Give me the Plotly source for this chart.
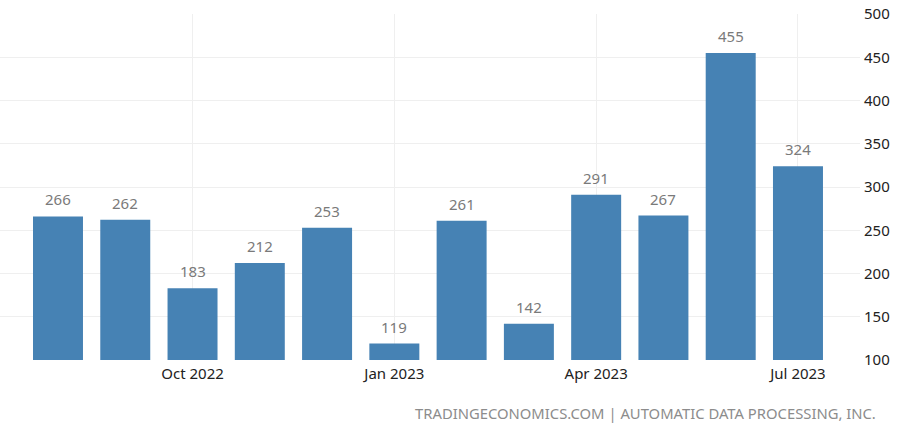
import plotly.graph_objects as go

months = ["Aug 2022", "Sep 2022", "Oct 2022", "Nov 2022", "Dec 2022", "Jan 2023",
          "Feb 2023", "Mar 2023", "Apr 2023", "May 2023", "Jun 2023", "Jul 2023"]
values = [266, 262, 183, 212, 253, 119, 261, 142, 291, 267, 455, 324]
tick_idx = [2, 5, 8, 11]
tick_text = ["Oct 2022", "Jan 2023", "Apr 2023", "Jul 2023"]
y_ticks = [100, 150, 200, 250, 300, 350, 400, 450, 500]

x = list(range(len(months)))

fig = go.Figure()
fig.add_trace(go.Bar(
    x=x, y=values, base=0,
    marker=dict(color="#4682B4", line=dict(width=0)),
    hovertext=months, hoverinfo="text+y",
))

for xi, v in zip(x, values):
    fig.add_annotation(x=xi, y=v, text=str(v), showarrow=False,
                       xref="x", yref="y", yanchor="bottom", yshift=5,
                       font=dict(family="Noto Sans", size=15, color="#7a7a7a"))

fig.add_annotation(text="TRADINGECONOMICS.COM | AUTOMATIC DATA PROCESSING, INC.",
                   xref="paper", yref="paper", x=878 / 860, y=-0.118,
                   xanchor="right", yanchor="top", showarrow=False,
                   font=dict(family="Noto Sans", size=14.8, color="#8c8c8c"))

fig.update_layout(
    width=900, height=423,
    margin=dict(l=0, r=40, t=14, b=63),
    paper_bgcolor="white", plot_bgcolor="white",
    bargap=0.257, showlegend=False,
    font=dict(family="Noto Sans", size=15, color="#222222"),
)
fig.update_xaxes(
    range=[-0.862, 11.922], tickmode="array", tickvals=tick_idx, ticktext=tick_text,
    showgrid=True, gridcolor="#efefef", gridwidth=1, zeroline=False,
    showline=False, ticks="", ticklabelstandoff=3,
    tickfont=dict(family="Noto Sans", size=15, color="#222222"),
)
fig.update_yaxes(
    range=[100, 500], side="right", tickmode="array", tickvals=y_ticks,
    showgrid=True, gridcolor="#efefef", gridwidth=1, zeroline=False,
    showline=False, ticks="", ticklabelstandoff=3,
    tickfont=dict(family="Noto Sans", size=15, color="#222222"),
)

fig.write_html("out.html", config={"displayModeBar": False},
               post_script="document.body.style.margin='0px';")
